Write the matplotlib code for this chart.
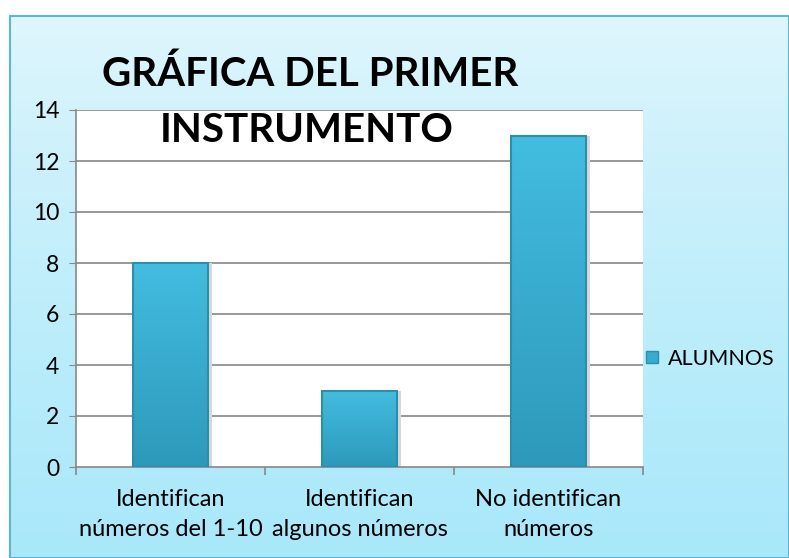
import numpy as np
import matplotlib.pyplot as plt
from matplotlib.patches import Rectangle
from matplotlib.lines import Line2D

categories = ['Identifican\nnúmeros del 1-10', 'Identifican\nalgunos números', 'No identifican\nnúmeros']
alumnos = [8, 3, 13]
yticks = [0, 2, 4, 6, 8, 10, 12, 14]

plt.rcParams['font.family'] = ['Lato', 'DejaVu Sans']

W, H = 789, 558
fig = plt.figure(figsize=(W / 100, H / 100), dpi=100)
fig.patch.set_facecolor('white')

# chart area background: light cyan gradient with a thin border
bg = fig.add_axes([10 / W, 0, 779 / W, 542 / H])
grad = np.linspace(0, 1, 256).reshape(-1, 1)
top = np.array([0.88, 0.965, 0.99])
bot = np.array([0.66, 0.91, 0.98])
img = top + (bot - top) * grad[..., None] ** 0.8
bg.imshow(img, aspect='auto', extent=[0, 1, 0, 1], origin='upper')
bg.set_xlim(0, 1)
bg.set_ylim(0, 1)
bg.axis('off')
bg.add_patch(Rectangle((0, 0), 1, 1, fill=False, edgecolor='#5bb8d0', lw=1.5,
                       transform=bg.transAxes, clip_on=False))

ax = fig.add_axes([76 / W, 1 - 467 / H, 567 / W, 357 / H])
ax.set_facecolor('white')
x = np.arange(len(categories))

for yv in yticks[1:]:
    ax.axhline(yv, color='#888888', lw=1.2, zorder=1)

# bars with a slight vertical gradient
bars = ax.bar(x, alumnos, width=0.4, color='#36acd0', edgecolor='#2b8eac', lw=1.2, zorder=3)
bar_grad = np.linspace(0, 1, 256).reshape(-1, 1)
c_top = np.array([0.26, 0.74, 0.88])
c_bot = np.array([0.18, 0.60, 0.73])
bar_img = c_top + (c_bot - c_top) * bar_grad[..., None]
for b in bars:
    bx, bw, bh = b.get_x(), b.get_width(), b.get_height()
    ax.add_patch(Rectangle((bx + bw, 0), 0.02, bh, color='#d8d8d8', zorder=2, lw=0))
    im = ax.imshow(bar_img, aspect='auto', extent=[bx, bx + bw, 0, bh], origin='upper', zorder=3.5)
    im.set_clip_path(b)
    ax.add_patch(Rectangle((bx, 0), bw, bh, fill=False, edgecolor='#2b8eac', lw=1.5, zorder=4))
ax.set_xlim(-0.5, len(categories) - 0.5)
ax.set_ylim(0, 14)

for s in ['top', 'right']:
    ax.spines[s].set_visible(False)
for s in ['left', 'bottom']:
    ax.spines[s].set_color('#888888')
    ax.spines[s].set_linewidth(1.2)

ax.set_yticks(yticks)
ax.set_yticklabels([str(v) for v in yticks], fontsize=16.5)
ax.tick_params(axis='y', length=5, color='#888888', pad=7)
ax.set_xticks(x)
ax.set_xticklabels(categories, fontsize=17, linespacing=1.5)
ax.tick_params(axis='x', which='major', length=0, pad=16)
ax.set_xticks(np.arange(-0.5, len(categories)), minor=True)
ax.tick_params(axis='x', which='minor', length=6, color='#888888', width=1.2)

fig.text(310 / W, 1 - 74 / H, 'GRÁFICA DEL PRIMER', fontsize=29, fontweight='bold',
         ha='center', va='center')
fig.text(307 / W, 1 - 130 / H, 'INSTRUMENTO', fontsize=29, fontweight='bold',
         ha='center', va='center', zorder=10)

handle = Line2D([], [], marker='s', linestyle='none', markersize=9,
                markerfacecolor='#36acd0', markeredgecolor='#2b8eac')
fig.legend([handle], ['ALUMNOS'], loc='center left', bbox_to_anchor=(643 / W, 1 - 359 / H),
           frameon=False, fontsize=15.5, handlelength=0.8, handletextpad=0.35,
           borderaxespad=0, borderpad=0)

fig.savefig('out.png', dpi=100)
